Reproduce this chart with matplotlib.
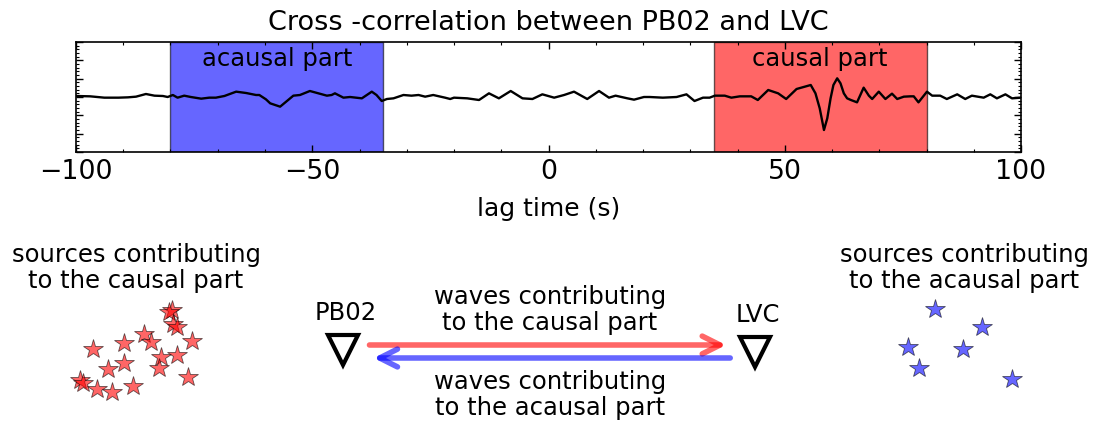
import matplotlib
matplotlib.use('Agg')
import matplotlib.pyplot as plt
from matplotlib.ticker import MultipleLocator

# cross-correlation trace (lag in s, amplitude in arbitrary units)
lag = [-100, -97, -94, -91, -89, -87.3, -85.2, -83.4, -81.6, -80.6, -79.5, -78.5, -77.1, -75.7,
       -73.5, -71.8, -70.4, -68.6, -66.1, -64.0, -61.9, -61.2, -59.8,
       -58.9, -56.8, -55.1, -54.0, -52.6, -50.5, -48.7, -46.9, -45.9, -45.2, -43.4, -42.0,
       -39.5, -37.4, -36.4, -35.3, -34.2, -32.8, -30.7, -29.0, -27.5, -26.1, -24.4, -21.9, -20.8,
       -20.0, -17.2, -14.7, -12.6, -10.5, -8.0, -5.5, -3.4, -1.3, 1.2, 3.3, 5.4, 8.2, 10.7,
       12.8, 14.2, 16.7, 18.1, 20.2,
       21.4, 24.2, 27.1, 29.2, 30.9, 32.7, 34.1, 35.2, 37.3, 38.7, 40.5, 42.9, 44.3, 46.5,
       48.6, 50.3, 52.5, 54.0, 55.5, 56.5, 57.4, 58.3, 59.0, 59.7, 60.3, 61.1, 61.8, 62.5, 63.2,
       64.0, 65.3, 66.0, 66.7, 67.8, 68.5, 69.9, 71.3, 72.7, 73.8, 75.2, 76.6, 77.3, 78.3,
       80.1, 81.2, 82.9, 84.3, 86.5, 88.2, 89.6, 92.1, 93.5, 94.9, 96.7, 98.1, 100]
level = [63, 64, 68, 68, 67, 65, 57, 62, 63, 66, 60, 68, 62, 66,
         71, 68, 68, 63, 50, 54, 60, 60, 73,
         85, 95, 75, 62, 60, 48, 55, 62, 60, 55, 68, 66,
         70, 50, 60, 78, 72, 70, 60, 62, 60, 65, 60, 68, 72,
         68, 70, 75, 55, 70, 48, 70, 72, 58, 68, 60, 50, 72, 48,
         68, 62, 70, 74, 66,
         66, 68, 66, 58, 78, 68, 68, 62, 62, 68, 64, 64, 75, 45,
         55, 72, 42, 36, 30, 55, 100, 165, 130, 70, 30, 10, 25, 55, 70,
         75, 82, 60, 38, 62, 72, 50, 72, 56, 72, 65, 64, 64, 82,
         50, 62, 62, 72, 58, 72, 62, 68, 58, 70, 58, 70, 68]
amp = [(66 - v) / 55.0 for v in level]

acausal_win = (-80, -35)
causal_win = (35, 80)

# source locations (map coordinates of the sketch, y grows downward)
causal_src_x = [171.7, 168.5, 173.3, 176.7, 144.0, 151.0, 192.3, 124.0, 92.7, 160.7, 176.7,
                124.0, 108.3, 159.3, 188.3, 80.0, 82.7, 96.7, 111.7, 132.7]
causal_src_y = [310.0, 312.3, 324.3, 326.7, 334.3, 341.7, 341.0, 343.3, 349.3, 356.7, 355.0,
                363.3, 369.3, 368.3, 377.3, 380.0, 382.7, 389.3, 391.7, 386.0]
acausal_src_x = [935.0, 982.3, 908.3, 962.7, 919.0, 1011.7]
acausal_src_y = [309.3, 327.3, 347.3, 349.3, 367.7, 379.0]

stations = ['PB02', 'LVC']
station_x = [342.7, 755.0]
station_y = [350.0, 351.7]

fs = 17.5
fig = plt.figure(figsize=(10.96, 4.23), dpi=100)

# sketch layer in figure pixel units
ax2 = fig.add_axes([0, 0, 1, 1])
ax2.set_xlim(0, 1096)
ax2.set_ylim(423, 0)
ax2.axis('off')

ax = fig.add_axes([76 / 1096, 1 - 152 / 423, 945 / 1096, 110 / 423])
ax.axvspan(*acausal_win, facecolor='blue', edgecolor='k', alpha=0.6, lw=1)
ax.axvspan(*causal_win, facecolor='red', edgecolor='k', alpha=0.6, lw=1)
ax.plot(lag, amp, color='k', lw=1.7, solid_joinstyle='round')
ax.set_xlim(-100, 100)
ax.set_ylim(-3, 3)
ax.xaxis.set_major_locator(MultipleLocator(50))
ax.xaxis.set_minor_locator(MultipleLocator(10))
ax.yaxis.set_major_locator(MultipleLocator(1))
ax.yaxis.set_minor_locator(MultipleLocator(0.2))
ax.set_yticklabels([])
ax.tick_params(which='both', direction='in', top=True, right=True, labelsize=19.3)
ax.tick_params(which='major', length=5, width=1)
ax.tick_params(which='minor', length=2.5, width=0.8)
ax.tick_params(axis='x', pad=5)
for s in ax.spines.values():
    s.set_linewidth(1.2)
ax.text(sum(acausal_win) / 2, 2.05, 'acausal part', ha='center', va='center', fontsize=fs)
ax.text(sum(causal_win) / 2, 2.05, 'causal part', ha='center', va='center', fontsize=fs)
ax.set_xlabel('lag time (s)', fontsize=18, labelpad=9)
ax.set_title('Cross -correlation between PB02 and LVC', fontsize=19.5, pad=9)

# sources
ax2.plot(causal_src_x, causal_src_y, ls='none', marker='*', ms=15, color='red', alpha=0.6,
         mec='k', mew=0.6)
ax2.plot(acausal_src_x, acausal_src_y, ls='none', marker='*', ms=15, color='blue', alpha=0.6,
         mec='k', mew=0.6)
ax2.text(136, 268, 'sources contributing\nto the causal part', ha='center', va='center',
         fontsize=fs, linespacing=1.15)
ax2.text(964, 268, 'sources contributing\nto the acausal part', ha='center', va='center',
         fontsize=fs, linespacing=1.15)

# stations
ax2.plot(station_x, station_y, ls='none', marker='v', ms=22, mfc='white', mec='k', mew=3)
for name, sx, sy in zip(stations, station_x, station_y):
    ax2.text(sx + 3, sy - 37, name, ha='center', va='center', fontsize=fs)

# waves
ax2.annotate('', xy=(station_x[1] - 26, 345), xytext=(station_x[0] + 24, 345),
             arrowprops=dict(arrowstyle='->', color='red', alpha=0.6, lw=4, mutation_scale=32))
ax2.annotate('', xy=(station_x[0] + 28, 358), xytext=(station_x[1] - 22, 358),
             arrowprops=dict(arrowstyle='->', color='blue', alpha=0.6, lw=4, mutation_scale=32))
ax2.text(550, 310, 'waves contributing\nto the causal part', ha='center', va='center',
         fontsize=fs, linespacing=1.15)
ax2.text(550, 395, 'waves contributing\nto the acausal part', ha='center', va='center',
         fontsize=fs, linespacing=1.15)

fig.savefig('out.png', dpi=100)
